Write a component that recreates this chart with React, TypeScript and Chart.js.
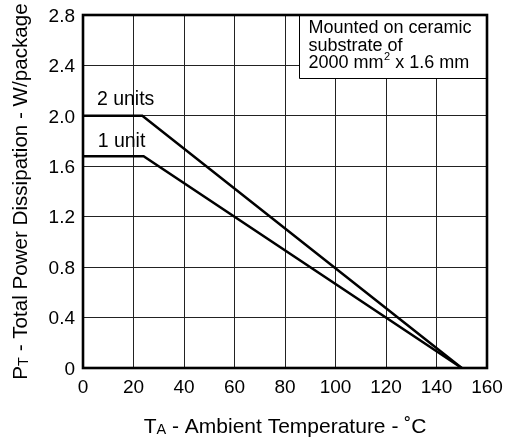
import React, { useEffect, useRef } from "react";
import { Chart, registerables } from "chart.js";

Chart.register(...registerables);

// ---- Data ----
const tempTwoUnits = [0, 23.5, 150];
const powerTwoUnits = [2.0, 2.0, 0];
const tempOneUnit = [0, 24, 150];
const powerOneUnit = [1.68, 1.68, 0];

const xTicks = [0, 20, 40, 60, 80, 100, 120, 140, 160];
const yTicks = [0, 0.4, 0.8, 1.2, 1.6, 2.0, 2.4, 2.8];

const seriesLabels = ["2 units", "1 unit"];
const noteLines = ["Mounted on ceramic", "substrate of"];
const yTitleParts = ["P", "T", " - Total Power Dissipation - W/package"];
const xTitleParts = ["T", "A", " - Ambient Temperature - ˚C"];

const FONT = "'Liberation Sans', Arial, Helvetica, sans-serif";

type Part = { text: string; size: number; dy: number };

function drawRich(ctx: CanvasRenderingContext2D, parts: Part[], x: number, y: number) {
  let total = 0;
  for (const p of parts) {
    ctx.font = `${p.size}px ${FONT}`;
    total += ctx.measureText(p.text).width;
  }
  let cx = x - total / 2;
  ctx.textAlign = "left";
  ctx.textBaseline = "alphabetic";
  for (const p of parts) {
    ctx.font = `${p.size}px ${FONT}`;
    ctx.fillText(p.text, cx, y + p.dy);
    cx += ctx.measureText(p.text).width;
  }
}

const overlayPlugin = {
  id: "overlay",
  afterDraw(chart: any) {
    const ctx: CanvasRenderingContext2D = chart.ctx;
    const area = chart.chartArea;
    const xs = chart.scales.x;
    const ys = chart.scales.y;
    ctx.save();
    ctx.fillStyle = "#000";

    // Note box
    const bx = Math.round(xs.getPixelForValue(85.5)) + 0.5;
    const by = area.top;
    const bb = Math.round(ys.getPixelForValue(2.3)) + 0.5;
    ctx.fillStyle = "#fff";
    ctx.fillRect(bx, by, area.right - bx, bb - by);
    ctx.strokeStyle = "#000";
    ctx.lineWidth = 1;
    ctx.beginPath();
    ctx.moveTo(bx, by);
    ctx.lineTo(bx, bb);
    ctx.lineTo(area.right, bb);
    ctx.stroke();
    ctx.fillStyle = "#000";
    ctx.font = `18px ${FONT}`;
    ctx.textAlign = "left";
    ctx.textBaseline = "alphabetic";
    const tx = bx + 9;
    ctx.fillText(noteLines[0], tx, by + 18);
    ctx.fillText(noteLines[1], tx, by + 35.5);
    // third line with superscript
    let cx = tx;
    const l3y = by + 53;
    ctx.font = `18px ${FONT}`;
    ctx.fillText("2000 mm", cx, l3y);
    cx += ctx.measureText("2000 mm").width;
    ctx.font = `11px ${FONT}`;
    ctx.fillText("2", cx + 0.5, l3y - 8);
    cx += ctx.measureText("2").width + 0.5;
    ctx.font = `18px ${FONT}`;
    ctx.fillText(" x 1.6 mm", cx, l3y);

    // Series labels
    ctx.font = `19.5px ${FONT}`;
    ctx.fillText(seriesLabels[0], xs.getPixelForValue(5.5), ys.getPixelForValue(2.09));
    ctx.fillText(seriesLabels[1], xs.getPixelForValue(5.8), ys.getPixelForValue(1.75));

    // Frame
    ctx.lineWidth = 2.6;
    ctx.strokeStyle = "#000";
    ctx.strokeRect(area.left, area.top, area.right - area.left, area.bottom - area.top);

    // Axis titles
    ctx.fillStyle = "#000";
    drawRich(
      ctx,
      [
        { text: xTitleParts[0], size: 21, dy: 0 },
        { text: xTitleParts[1], size: 14.5, dy: 1 },
        { text: xTitleParts[2], size: 21, dy: 0 },
      ],
      (area.left + area.right) / 2,
      433
    );
    ctx.save();
    ctx.translate(27, (area.top + area.bottom) / 2 + 0);
    ctx.rotate(-Math.PI / 2);
    drawRich(
      ctx,
      [
        { text: yTitleParts[0], size: 20.6, dy: 0 },
        { text: yTitleParts[1], size: 14.5, dy: 1 },
        { text: yTitleParts[2], size: 20.6, dy: 0 },
      ],
      0,
      0
    );
    ctx.restore();
    ctx.restore();
  },
};

function fixScale(size: "width" | "height", value: number) {
  return (s: any) => {
    s[size] = value;
    s.paddingTop = 0;
    s.paddingBottom = 0;
    s.paddingLeft = 0;
    s.paddingRight = 0;
  };
}

export default function App() {
  const ref = useRef<HTMLCanvasElement | null>(null);
  useEffect(() => {
    if (!ref.current) return;
    const chart = new Chart(ref.current, {
      type: "scatter",
      data: {
        datasets: [
          {
            label: seriesLabels[0],
            data: tempTwoUnits.map((t, i) => ({ x: t, y: powerTwoUnits[i] })),
            showLine: true,
            borderColor: "#000",
            borderWidth: 2.5,
            pointRadius: 0,
            tension: 0,
          },
          {
            label: seriesLabels[1],
            data: tempOneUnit.map((t, i) => ({ x: t, y: powerOneUnit[i] })),
            showLine: true,
            borderColor: "#000",
            borderWidth: 2.5,
            pointRadius: 0,
            tension: 0,
          },
        ],
      },
      options: {
        responsive: false,
        animation: false,
        layout: { padding: { top: 15, right: 22, left: 0, bottom: 0 } },
        plugins: { legend: { display: false }, tooltip: { enabled: false }, title: { display: false } },
        scales: {
          x: {
            type: "linear",
            min: 0,
            max: 160,
            afterFit: fixScale("height", 70),
            afterBuildTicks: (s: any) => {
              s.ticks = xTicks.map((v) => ({ value: v }));
            },
            ticks: {
              color: "#000",
              font: { family: FONT, size: 19 },
              padding: 8,
              maxRotation: 0,
              callback: (v: any) => String(v),
            },
            grid: { color: "#222", lineWidth: 1, drawTicks: false },
            border: { display: false },
          },
          y: {
            type: "linear",
            min: 0,
            max: 2.8,
            afterFit: fixScale("width", 83),
            afterBuildTicks: (s: any) => {
              s.ticks = yTicks.map((v) => ({ value: v }));
            },
            ticks: {
              color: "#000",
              font: { family: FONT, size: 19 },
              padding: 8,
              labelOffset: 1.5,
              callback: (v: any) => (v === 0 ? "0" : Number(v).toFixed(1)),
            },
            grid: { color: "#222", lineWidth: 1, drawTicks: false },
            border: { display: false },
          },
        },
      },
      plugins: [overlayPlugin],
    });
    return () => chart.destroy();
  }, []);
  return (
    <div style={{ position: "absolute", left: 0, top: 0, width: 509, height: 438, background: "#fff" }}>
      <canvas ref={ref} width={509} height={438} style={{ display: "block" }} />
    </div>
  );
}
